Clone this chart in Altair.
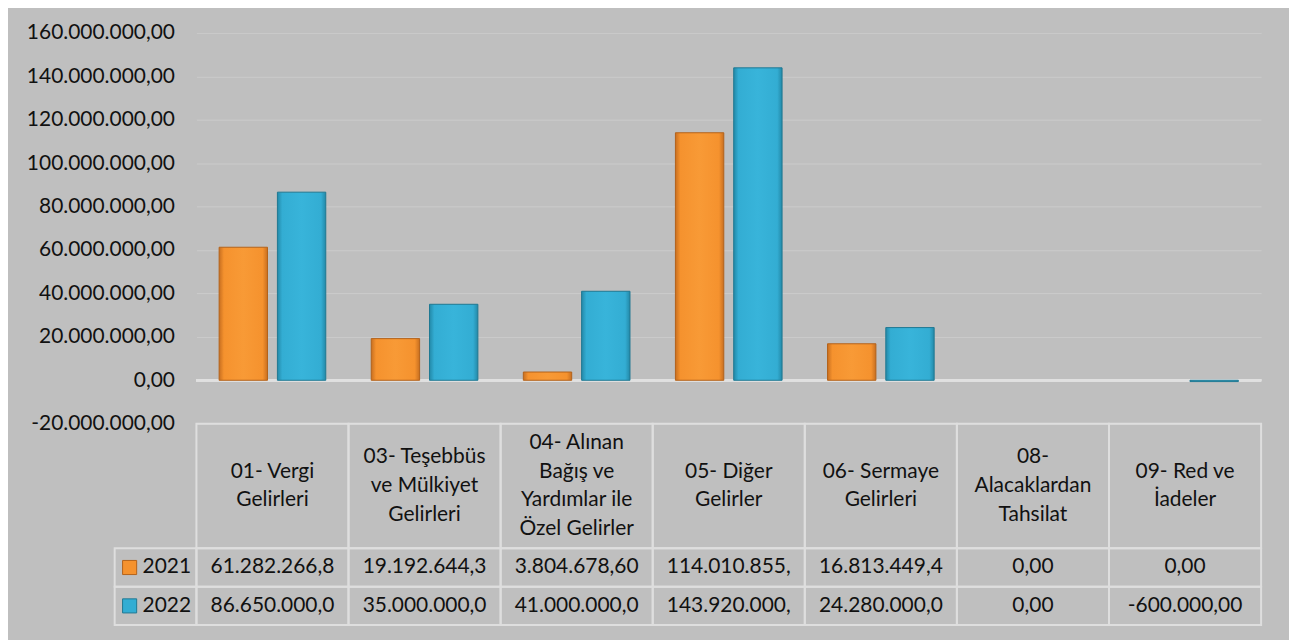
import altair as alt
import pandas as pd

categories = [
    "01- Vergi Gelirleri",
    "03- Teşebbüs ve Mülkiyet Gelirleri",
    "04- Alınan Bağış ve Yardımlar ile Özel Gelirler",
    "05- Diğer Gelirler",
    "06- Sermaye Gelirleri",
    "08- Alacaklardan Tahsilat",
    "09- Red ve İadeler",
]
header_lines = [
    ["01- Vergi", "Gelirleri"],
    ["03- Teşebbüs", "ve Mülkiyet", "Gelirleri"],
    ["04- Alınan", "Bağış ve", "Yardımlar ile", "Özel Gelirler"],
    ["05- Diğer", "Gelirler"],
    ["06- Sermaye", "Gelirleri"],
    ["08-", "Alacaklardan", "Tahsilat"],
    ["09- Red ve", "İadeler"],
]
years = ["2021", "2022"]
values_2021 = [61282266.8, 19192644.3, 3804678.60, 114010855.0, 16813449.4, 0.0, 0.0]
values_2022 = [86650000.0, 35000000.0, 41000000.0, 143920000.0, 24280000.0, 0.0, -600000.0]
cells_2021 = ["61.282.266,8", "19.192.644,3", "3.804.678,60", "114.010.855,", "16.813.449,4", "0,00", "0,00"]
cells_2022 = ["86.650.000,0", "35.000.000,0", "41.000.000,0", "143.920.000,", "24.280.000,0", "0,00", "-600.000,00"]
y_ticks = [-20000000, 0, 20000000, 40000000, 60000000, 80000000, 100000000,
           120000000, 140000000, 160000000]

fill_colors = ["#F5922E", "#33ADD3"]
edge_colors = ["#B4621A", "#1F7893"]
BG = "#bfbfbf"
GRID = "#cbcbcb"
LINE = "#dedede"
FONT = "Lato"
FS = 21
TXT = "#111111"

W = 1068
HEADER_H = 125
LINE_H = 29
n = len(categories)

bars_df = pd.DataFrame({
    "cat": categories * 2,
    "year": [years[0]] * n + [years[1]] * n,
    "value": values_2021 + values_2022,
})
hrows = []
for c, lines in zip(categories, header_lines):
    k = len(lines)
    for i, t in enumerate(lines):
        hrows.append({"cat": c, "line": t, "pos": (k - 1) / 2 - i})
header_df = pd.DataFrame(hrows)
rows_df = pd.DataFrame({
    "cat": categories * 2,
    "year": [years[0]] * n + [years[1]] * n,
    "cell": cells_2021 + cells_2022,
})
legend_df = pd.DataFrame({"col": ["legend"] * 2, "year": years})

xscale = alt.Scale(domain=categories, paddingInner=0, paddingOuter=0)
color_scale = alt.Scale(domain=years, range=fill_colors)
stroke_scale = alt.Scale(domain=years, range=edge_colors)

label_expr = ("replace(replace(replace(replace(format(datum.value, ',.2f'), /,/g, '#'), "
              "/\\./g, ','), /#/g, '.'), /\u2212/g, '-')")


def grad(edge, body, light):
    return alt.LinearGradient(
        gradient="linear", x1=0, x2=1, y1=0, y2=0,
        stops=[alt.GradientStop(color=edge, offset=0),
               alt.GradientStop(color=body, offset=0.1),
               alt.GradientStop(color=light, offset=0.5),
               alt.GradientStop(color=body, offset=0.9),
               alt.GradientStop(color=edge, offset=1)])


bar_fills = [grad("#C86F20", fill_colors[0], "#F89A36"),
             grad("#2389A8", fill_colors[1], "#38B4DA")]

base = alt.Chart(bars_df)
zero_rule = base.mark_rule(color="#e0e0e0", strokeWidth=2.5).encode(y=alt.datum(0))

yenc = alt.Y("value:Q",
             scale=alt.Scale(domain=[-20000000, 160000000], nice=False, zero=False),
             axis=alt.Axis(values=y_ticks, labelExpr=label_expr, title=None,
                           domain=False, ticks=False, labelPadding=22,
                           labelFont=FONT, labelFontSize=FS, labelColor=TXT,
                           grid=True, gridColor=GRID, gridWidth=1))
xenc = alt.X("cat:N", scale=xscale, sort=categories, axis=None)
xoff = alt.XOffset("year:N", sort=years,
                   scale=alt.Scale(domain=years, paddingInner=0.17, paddingOuter=0.39))

bar_layers = []
for yr, fill, edge in zip(years, bar_fills, edge_colors):
    bar_layers.append(
        base.transform_filter(f"datum.year == '{yr}' && datum.value != 0")
        .mark_bar(color=fill, stroke=edge, strokeWidth=1)
        .encode(x=xenc, xOffset=xoff, y=yenc)
    )
bar_chart = alt.layer(zero_rule, *bar_layers).properties(
    width=W, height=392, view=alt.ViewBackground(stroke=None))

cbase = alt.Chart(pd.DataFrame({"cat": categories}))
header_cells = cbase.mark_rect(fill="transparent", stroke=LINE, strokeWidth=2).encode(x=xenc)
half = HEADER_H / LINE_H / 2
header_text = alt.Chart(header_df).mark_text(font=FONT, fontSize=FS, color=TXT,
                                             baseline="middle", align="center").encode(
    x=xenc,
    y=alt.Y("pos:Q", scale=alt.Scale(domain=[-half, half], nice=False, zero=False), axis=None),
    text="line:N")
header_chart = alt.layer(header_cells, header_text).properties(
    width=W, height=HEADER_H, view=alt.ViewBackground(stroke=None))

yrow = alt.Y("year:N", sort=years, scale=alt.Scale(domain=years, paddingInner=0, paddingOuter=0),
             axis=None)
rbase = alt.Chart(rows_df)
row_cells = rbase.mark_rect(fill="transparent", stroke=LINE, strokeWidth=2).encode(x=xenc, y=yrow)
row_text = rbase.mark_text(font=FONT, fontSize=FS, color=TXT, baseline="middle",
                           align="center").encode(x=xenc, y=yrow, text="cell:N")
table_part = alt.layer(row_cells, row_text)

leg_scale = alt.Scale(domain=["legend"], range=[-82, 0], paddingInner=0, paddingOuter=0)
lx = alt.X("col:N", scale=leg_scale, axis=None)
lx0 = alt.X("col:N", bandPosition=0, scale=leg_scale, axis=None)
lbase = alt.Chart(legend_df)
leg_cells = lbase.mark_rect(fill="transparent", stroke=LINE, strokeWidth=2).encode(x=lx, y=yrow)
leg_sq = lbase.mark_square(size=200, opacity=1, xOffset=15, strokeWidth=1).encode(
    x=lx0, y=yrow,
    color=alt.Color("year:N", scale=color_scale, legend=None),
    stroke=alt.Stroke("year:N", scale=stroke_scale, legend=None))
leg_txt = lbase.mark_text(font=FONT, fontSize=FS, color=TXT, baseline="middle", align="left",
                          dx=28).encode(x=lx0, y=yrow, text="year:N")
legend_part = alt.layer(leg_cells, leg_sq, leg_txt)

rows_chart = alt.layer(table_part, legend_part).resolve_scale(x="independent").properties(
    width=W, height=77, view=alt.ViewBackground(stroke=None))

chart = alt.vconcat(bar_chart, header_chart, rows_chart, spacing=0, bounds="flush").properties(
    padding={"left": 18, "top": 13, "right": 26, "bottom": 20},
    background=BG,
).configure_view(stroke=None)

chart.save("out.html", embed_options={"renderer": "svg", "actions": False})
